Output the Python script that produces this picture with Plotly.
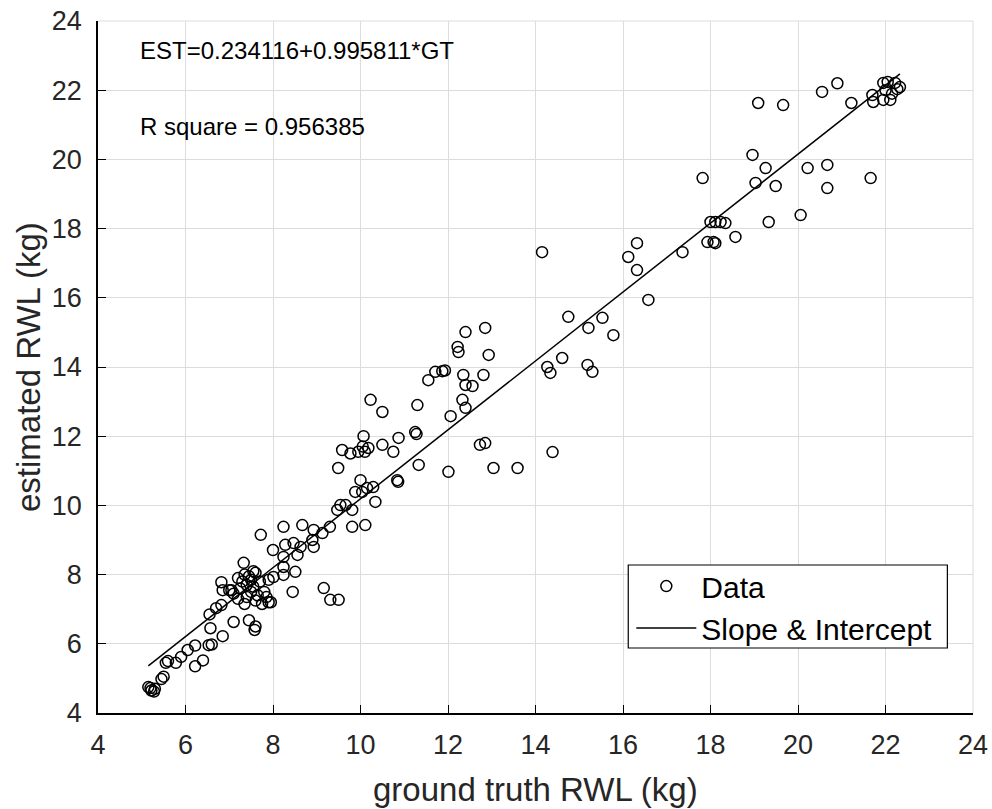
import plotly.graph_objects as go

# ground truth RWL (kg) and estimated RWL (kg)
gt = [5.20, 5.28, 5.22, 5.30, 5.45, 5.50, 5.55, 5.60, 5.78, 5.90,
      6.05, 6.22, 6.22, 6.40, 6.53, 6.60, 6.57, 6.55, 6.70, 6.82,
      6.85, 7.10, 7.45, 7.58, 7.60, 6.82, 6.85, 7.05, 7.33, 7.20,
      7.25, 7.30, 7.35, 7.40, 7.40, 7.45, 7.50, 7.50, 7.55, 7.60,
      7.60, 7.65, 7.70, 7.75, 7.80, 7.85, 7.90, 7.95, 7.90, 7.10,
      7.20, 7.35, 7.55, 7.00, 7.72, 8.00, 8.28, 8.47, 8.63, 8.90,
      8.93, 8.24, 8.56, 8.24, 8.51, 8.01, 8.24, 8.45, 9.16, 9.31,
      9.50, 8.24, 8.67, 8.93, 9.13, 9.30, 9.81, 10.11, 9.54, 9.66,
      9.47, 9.81, 9.88, 10.04, 10.15, 10.29, 10.34, 10.00, 10.84, 10.86,
      9.49, 9.58, 9.77, 9.95, 10.10, 10.05, 10.18, 10.07, 10.50, 10.75,
      10.87, 10.23, 10.50, 11.25, 11.28, 11.30, 11.33, 12.01, 11.55, 11.71,
      11.87, 11.93, 12.35, 12.81, 12.40, 12.56, 12.33, 12.40, 12.06, 12.22,
      12.24, 12.40, 12.85, 12.93, 12.73, 12.85, 13.04, 13.59, 14.39, 14.15,
      14.27, 14.34, 14.61, 14.75, 15.19, 15.30, 15.21, 15.53, 15.78, 16.12,
      16.32, 16.32, 16.58, 17.36, 17.82, 17.93, 18.07, 18.11, 18.00, 18.11,
      18.23, 18.34, 18.57, 19.33, 20.06, 18.96, 19.26, 19.03, 19.49, 20.22,
      20.67, 20.67, 21.66, 19.09, 19.66, 20.55, 20.90, 21.22, 21.70, 21.72,
      21.95, 22.05, 22.22, 22.33, 21.95, 22.11, 22.27, 22.00, 22.15, 5.15]
est = [4.72, 4.62, 4.65, 4.70, 4.98, 5.05, 5.45, 5.50, 5.45, 5.62,
       5.82, 5.95, 5.35, 5.52, 5.96, 5.98, 6.45, 6.85, 7.03, 7.12,
       6.22, 6.63, 6.68, 6.40, 6.50, 7.78, 7.55, 7.55, 8.34, 7.90,
       7.60, 7.80, 8.00, 7.70, 7.35, 7.95, 7.50, 7.85, 7.65, 8.05,
       7.25, 7.40, 7.80, 7.15, 7.50, 7.35, 7.20, 7.20, 7.85, 7.45,
       7.30, 7.15, 8.10, 7.55, 9.15, 8.71, 8.86, 8.91, 8.80, 9.00,
       8.80, 8.51, 8.57, 8.22, 8.08, 7.93, 7.99, 7.50, 7.61, 7.27,
       7.27, 9.38, 9.43, 9.29, 9.20, 9.38, 9.38, 9.43, 10.01, 10.01,
       9.87, 9.87, 10.39, 10.39, 10.50, 10.53, 10.10, 10.73, 10.73, 10.68,
       11.08, 11.60, 11.50, 11.55, 11.55, 11.70, 11.66, 12.00, 11.75, 11.55,
       11.95, 13.05, 12.70, 12.12, 12.06, 12.90, 11.17, 10.97, 13.62, 13.86,
       13.88, 13.90, 13.77, 13.77, 13.48, 13.45, 13.05, 12.82, 12.58, 14.58,
       14.43, 15.01, 15.13, 14.35, 11.75, 11.80, 11.08, 11.08, 11.54, 17.32,
       14.00, 13.83, 14.26, 15.45, 14.06, 13.86, 15.13, 15.42, 14.92, 17.18,
       17.58, 16.80, 15.94, 17.32, 19.46, 17.61, 17.61, 17.58, 18.19, 18.19,
       18.19, 18.16, 17.76, 18.19, 18.39, 20.13, 19.75, 19.32, 19.23, 19.75,
       19.84, 19.17, 19.46, 21.63, 21.57, 21.95, 22.20, 21.63, 21.86, 21.66,
       22.21, 22.24, 22.21, 22.09, 21.72, 21.72, 22.03, 22.00, 21.90, 4.75]

intercept = 0.234116
slope = 0.995811
r_square = 0.956385

x_ticks = [4, 6, 8, 10, 12, 14, 16, 18, 20, 22, 24]
y_ticks = [4, 6, 8, 10, 12, 14, 16, 18, 20, 22, 24]

line_x = [min(gt), max(gt)]
line_y = [intercept + slope * v for v in line_x]

FONT = "Liberation Sans, Arial, Helvetica, sans-serif"
TXT = "#262626"

fig = go.Figure()
fig.add_trace(go.Scatter(
    x=gt, y=est, mode="markers", name="Data",
    marker=dict(symbol="circle-open", size=11, color="black",
                line=dict(width=1.5, color="black")),
))
fig.add_trace(go.Scatter(
    x=line_x, y=line_y, mode="lines", name="Slope & Intercept",
    line=dict(color="black", width=1.5),
))

axis_common = dict(
    range=[4, 24], showgrid=True, gridcolor="#dcdcdc", gridwidth=1,
    zeroline=False, showline=True, linecolor="black", linewidth=1.5,
    ticks="inside", ticklen=8, tickcolor="black", tickwidth=1,
    tickfont=dict(size=27, color=TXT, family=FONT),
    mirror=False, automargin=False,
)
fig.update_xaxes(**axis_common, tickvals=x_ticks, ticklabelstandoff=7)
fig.update_yaxes(**axis_common, tickvals=y_ticks, ticklabelstandoff=9)

# axis titles
fig.add_annotation(xref="paper", yref="paper", x=0.5, y=-0.111,
                   xanchor="center", yanchor="middle", showarrow=False,
                   text="ground truth RWL (kg)",
                   font=dict(size=33, color=TXT, family=FONT))
fig.add_annotation(xref="paper", yref="paper", x=-0.08, y=0.5,
                   xanchor="center", yanchor="middle", showarrow=False,
                   textangle=-90, text="estimated RWL (kg)",
                   font=dict(size=33, color=TXT, family=FONT))

# light top/right box edges (grid lines at 24)
fig.add_shape(type="line", xref="paper", yref="paper", x0=0, x1=1, y0=1, y1=1,
              line=dict(color="#dcdcdc", width=1))
fig.add_shape(type="line", xref="paper", yref="paper", x0=1, x1=1, y0=0, y1=1,
              line=dict(color="#dcdcdc", width=1))

# legend frame
fig.add_shape(type="rect", xref="paper", yref="paper", layer="above",
              x0=0.606, x1=0.9707, y0=0.0939, y1=0.2139,
              line=dict(color="black", width=1.2), fillcolor="white")

fig.add_annotation(xref="paper", yref="paper", x=0.046, y=0.958,
                   xanchor="left", yanchor="middle", showarrow=False,
                   text=f"EST={intercept:.6f}+{slope:.6f}*GT",
                   font=dict(size=24, color="black", family=FONT))
fig.add_annotation(xref="paper", yref="paper", x=0.046, y=0.847,
                   xanchor="left", yanchor="middle", showarrow=False,
                   text=f"R square = {r_square:.6f}",
                   font=dict(size=24, color="black", family=FONT))

fig.update_layout(
    width=992, height=809,
    margin=dict(l=98, r=19, t=21, b=96),
    paper_bgcolor="white", plot_bgcolor="white",
    showlegend=True,
    legend=dict(x=0.6095, y=0.221, xanchor="left", yanchor="top",
                bgcolor="rgba(0,0,0,0)", borderwidth=0,
                font=dict(size=30, color="black", family=FONT),
                tracegroupgap=0, itemwidth=60),
)

fig.write_html("out.html")
